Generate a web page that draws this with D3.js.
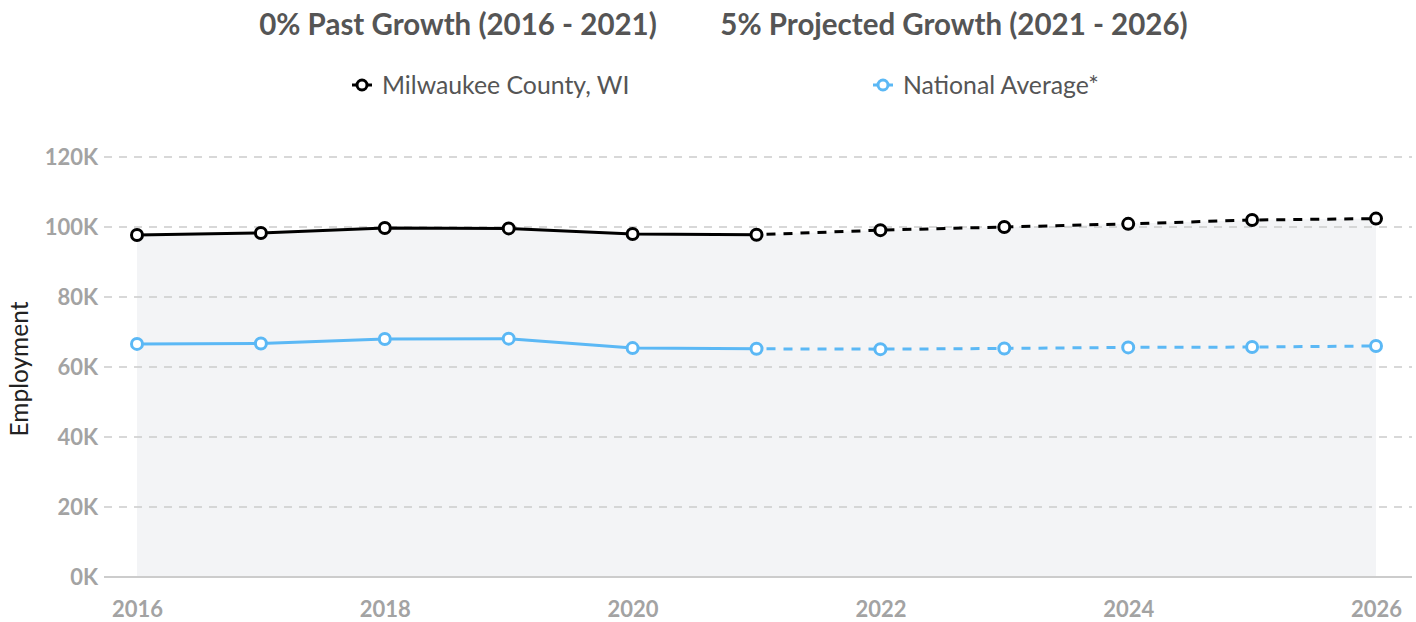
<!DOCTYPE html>
<html><head><meta charset="utf-8">
<script src="https://cdn.jsdelivr.net/npm/d3@7"></script>
<style>
html,body{margin:0;padding:0;background:#fff;}
svg{display:block;font-family:Lato,"Open Sans",sans-serif;}
</style></head>
<body>
<svg id="chart" width="1416" height="622"></svg>
<script>
const years = [2016,2017,2018,2019,2020,2021,2022,2023,2024,2025,2026];
const milwaukee = [97.7,98.3,99.7,99.6,98.0,97.8,99.1,100.0,100.9,102.0,102.4];
const national = [66.6,66.7,68.0,68.1,65.4,65.2,65.1,65.3,65.6,65.7,66.0];
const yTicks = [0,20,40,60,80,100,120];
const xTicks = [2016,2018,2020,2022,2024,2026];
const lastPast = 2021;
const titles = ["0% Past Growth (2016 - 2021)","5% Projected Growth (2021 - 2026)"];
const seriesNames = ["Milwaukee County, WI","National Average*"];
const colors = ["#000000","#5bb8f5"];

const svg = d3.select("#chart");
const x = d3.scaleLinear().domain([2016,2026]).range([137,1376]);
const y = d3.scaleLinear().domain([0,120]).range([577,157]);

// titles
svg.append("text").attr("x",458).attr("y",35).attr("text-anchor","middle")
  .attr("font-size",29.5).attr("font-weight","bold").attr("fill","#555").text(titles[0]);
svg.append("text").attr("x",954).attr("y",35).attr("text-anchor","middle")
  .attr("font-size",29.5).attr("font-weight","bold").attr("fill","#555").text(titles[1]);

// legend
const legX = [362,883];
seriesNames.forEach((n,i)=>{
  const g = svg.append("g");
  g.append("line").attr("x1",legX[i]-10).attr("x2",legX[i]+10).attr("y1",85).attr("y2",85)
    .attr("stroke",colors[i]).attr("stroke-width",3);
  g.append("circle").attr("cx",legX[i]).attr("cy",85).attr("r",5).attr("fill","#fff")
    .attr("stroke",colors[i]).attr("stroke-width",3);
  g.append("text").attr("x",legX[i]+20).attr("y",94).attr("font-size",24.8).attr("fill","#555").text(n);
});

// area under Milwaukee
const data = years.map((yr,i)=>({yr, m:milwaukee[i], n:national[i]}));
svg.append("path").datum(data)
  .attr("d", d3.area().x(d=>x(d.yr)).y0(y(0)).y1(d=>y(d.m)))
  .attr("fill","#f3f4f6");

// grid
const yAxis = d3.axisLeft(y).tickValues(yTicks).tickFormat(d=>d+"K").tickSize(0).tickPadding(6);
const gy = svg.append("g").attr("transform","translate(104,0)").call(yAxis);
gy.select(".domain").remove();
gy.selectAll("text").attr("font-size",22).attr("font-weight","bold").attr("fill","#a3a3a3")
  .attr("font-family","Lato,sans-serif");
svg.append("g").selectAll("line").data(yTicks.filter(t=>t>0)).join("line")
  .attr("x1",104).attr("x2",1412).attr("y1",d=>y(d)).attr("y2",d=>y(d))
  .attr("stroke","#cccccc").attr("stroke-width",1.5).attr("stroke-dasharray","8,7");
svg.append("line").attr("x1",104).attr("x2",1412).attr("y1",y(0)).attr("y2",y(0))
  .attr("stroke","#cccccc").attr("stroke-width",2);

// x axis
const xAxis = d3.axisBottom(x).tickValues(xTicks).tickFormat(d3.format("d")).tickSize(0).tickPadding(24);
const gx = svg.append("g").attr("transform",`translate(0,${y(0)})`).call(xAxis);
gx.select(".domain").remove();
gx.selectAll("text").attr("font-size",22).attr("font-weight","bold").attr("fill","#a3a3a3")
  .attr("font-family","Lato,sans-serif");

// y label
svg.append("text").attr("transform","translate(28,369) rotate(-90)").attr("text-anchor","middle")
  .attr("font-size",24.5).attr("fill","#222").text("Employment");

// lines
[["m",0],["n",1]].forEach(([k,i])=>{
  const line = d3.line().x(d=>x(d.yr)).y(d=>y(d[k]));
  svg.append("path").datum(data.filter(d=>d.yr<=lastPast)).attr("d",line)
    .attr("fill","none").attr("stroke",colors[i]).attr("stroke-width",3);
  svg.append("path").datum(data.filter(d=>d.yr>=lastPast)).attr("d",line)
    .attr("fill","none").attr("stroke",colors[i]).attr("stroke-width",3).attr("stroke-dasharray","9,8")
    .attr("stroke-dashoffset",-10);
  svg.append("g").selectAll("circle").data(data).join("circle")
    .attr("cx",d=>x(d.yr)).attr("cy",d=>y(d[k])).attr("r",5.5)
    .attr("fill","#fff").attr("stroke",colors[i]).attr("stroke-width",3);
});
</script>
</body></html>
